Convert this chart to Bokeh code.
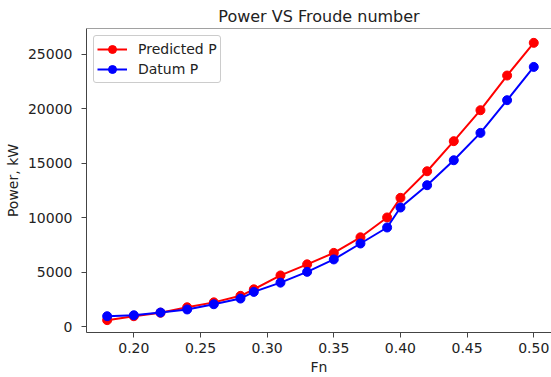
from bokeh.plotting import figure
from bokeh.models import Range1d, FixedTicker, NumeralTickFormatter, Span, Title
from bokeh.embed import file_html
from bokeh.resources import INLINE

fn = [0.18, 0.20, 0.22, 0.24, 0.26, 0.28, 0.29, 0.31, 0.33, 0.35, 0.37, 0.39,
      0.40, 0.42, 0.44, 0.46, 0.48, 0.50]
predicted_p = [620, 980, 1300, 1800, 2250, 2850, 3450, 4720, 5740, 6790, 8220, 10040,
               11840, 14280, 17040, 19880, 23060, 26060]
datum_p = [980, 1070, 1320, 1600, 2080, 2600, 3210, 4060, 5050, 6190, 7650, 9120,
           10950, 13000, 15290, 17800, 20800, 23850]
x_ticks = [0.20, 0.25, 0.30, 0.35, 0.40, 0.45, 0.50]
y_ticks = [0, 5000, 10000, 15000, 20000, 25000]

FONT = "DejaVu Sans"
X0, X1 = 0.1645, 0.5133
Y0, Y1 = -514, 27376

p = figure(width=551, height=377, x_range=Range1d(X0, X1),
           y_range=Range1d(Y0, Y1), output_backend="svg", toolbar_location=None,
           title="Power VS Froude number",
           min_border_left=86, min_border_right=0, min_border_top=28, min_border_bottom=45)

p.title.text_font = FONT
p.title.text_font_size = "16px"
p.title.text_font_style = "normal"
p.title.align = "center"
p.title.text_color = "#222222"
p.title.standoff = 5

p.outline_line_color = None
p.xgrid.grid_line_color = None
p.ygrid.grid_line_color = None
p.add_layout(Span(location=Y1, dimension="width", line_color="#444444", line_width=1))

for ax in (p.xaxis[0], p.yaxis[0]):
    ax.axis_line_color = "#444444"
    ax.major_tick_line_color = "#444444"
    ax.minor_tick_line_color = None
    ax.major_tick_out = 5
    ax.major_tick_in = 0
    ax.major_label_text_font = FONT
    ax.major_label_text_font_size = "14px"
    ax.major_label_text_color = "#222222"
    ax.axis_label_text_font = FONT
    ax.axis_label_text_font_size = "14px"
    ax.axis_label_text_font_style = "normal"
    ax.axis_label_text_color = "#222222"

p.xaxis.ticker = FixedTicker(ticks=x_ticks)
p.xaxis.formatter = NumeralTickFormatter(format="0.00")
p.yaxis.ticker = FixedTicker(ticks=y_ticks)
p.yaxis.formatter = NumeralTickFormatter(format="0")
p.yaxis.axis_label = "Power, kW"
p.xaxis.major_label_standoff = 5
p.yaxis.major_label_standoff = 9
p.yaxis.axis_label_standoff = 4

# x-axis title below the tick labels, centred on the plot frame
p.add_layout(Title(text="Fn", align="center", standoff=2, text_font=FONT,
                   text_font_size="14px", text_font_style="normal",
                   text_color="#222222"), "below")

p.line(fn, predicted_p, line_color="red", line_width=2, legend_label="Predicted P")
p.scatter(fn, predicted_p, size=9, fill_color="red", line_color="red", legend_label="Predicted P")
p.line(fn, datum_p, line_color="blue", line_width=2, legend_label="Datum P")
p.scatter(fn, datum_p, size=9, fill_color="blue", line_color="blue", legend_label="Datum P")

lg = p.legend[0]
lg.location = "top_left"
lg.margin = 7
lg.padding = 3
lg.spacing = 0
lg.glyph_width = 30
lg.glyph_height = 20
lg.label_height = 20
lg.label_standoff = 11
lg.border_line_color = "#cccccc"
lg.border_line_alpha = 1
lg.border_radius = 3
lg.background_fill_alpha = 0.8
lg.label_text_font = FONT
lg.label_text_font_size = "14px"
lg.label_text_color = "#222222"

open("out.html", "w").write(file_html(p, INLINE))
